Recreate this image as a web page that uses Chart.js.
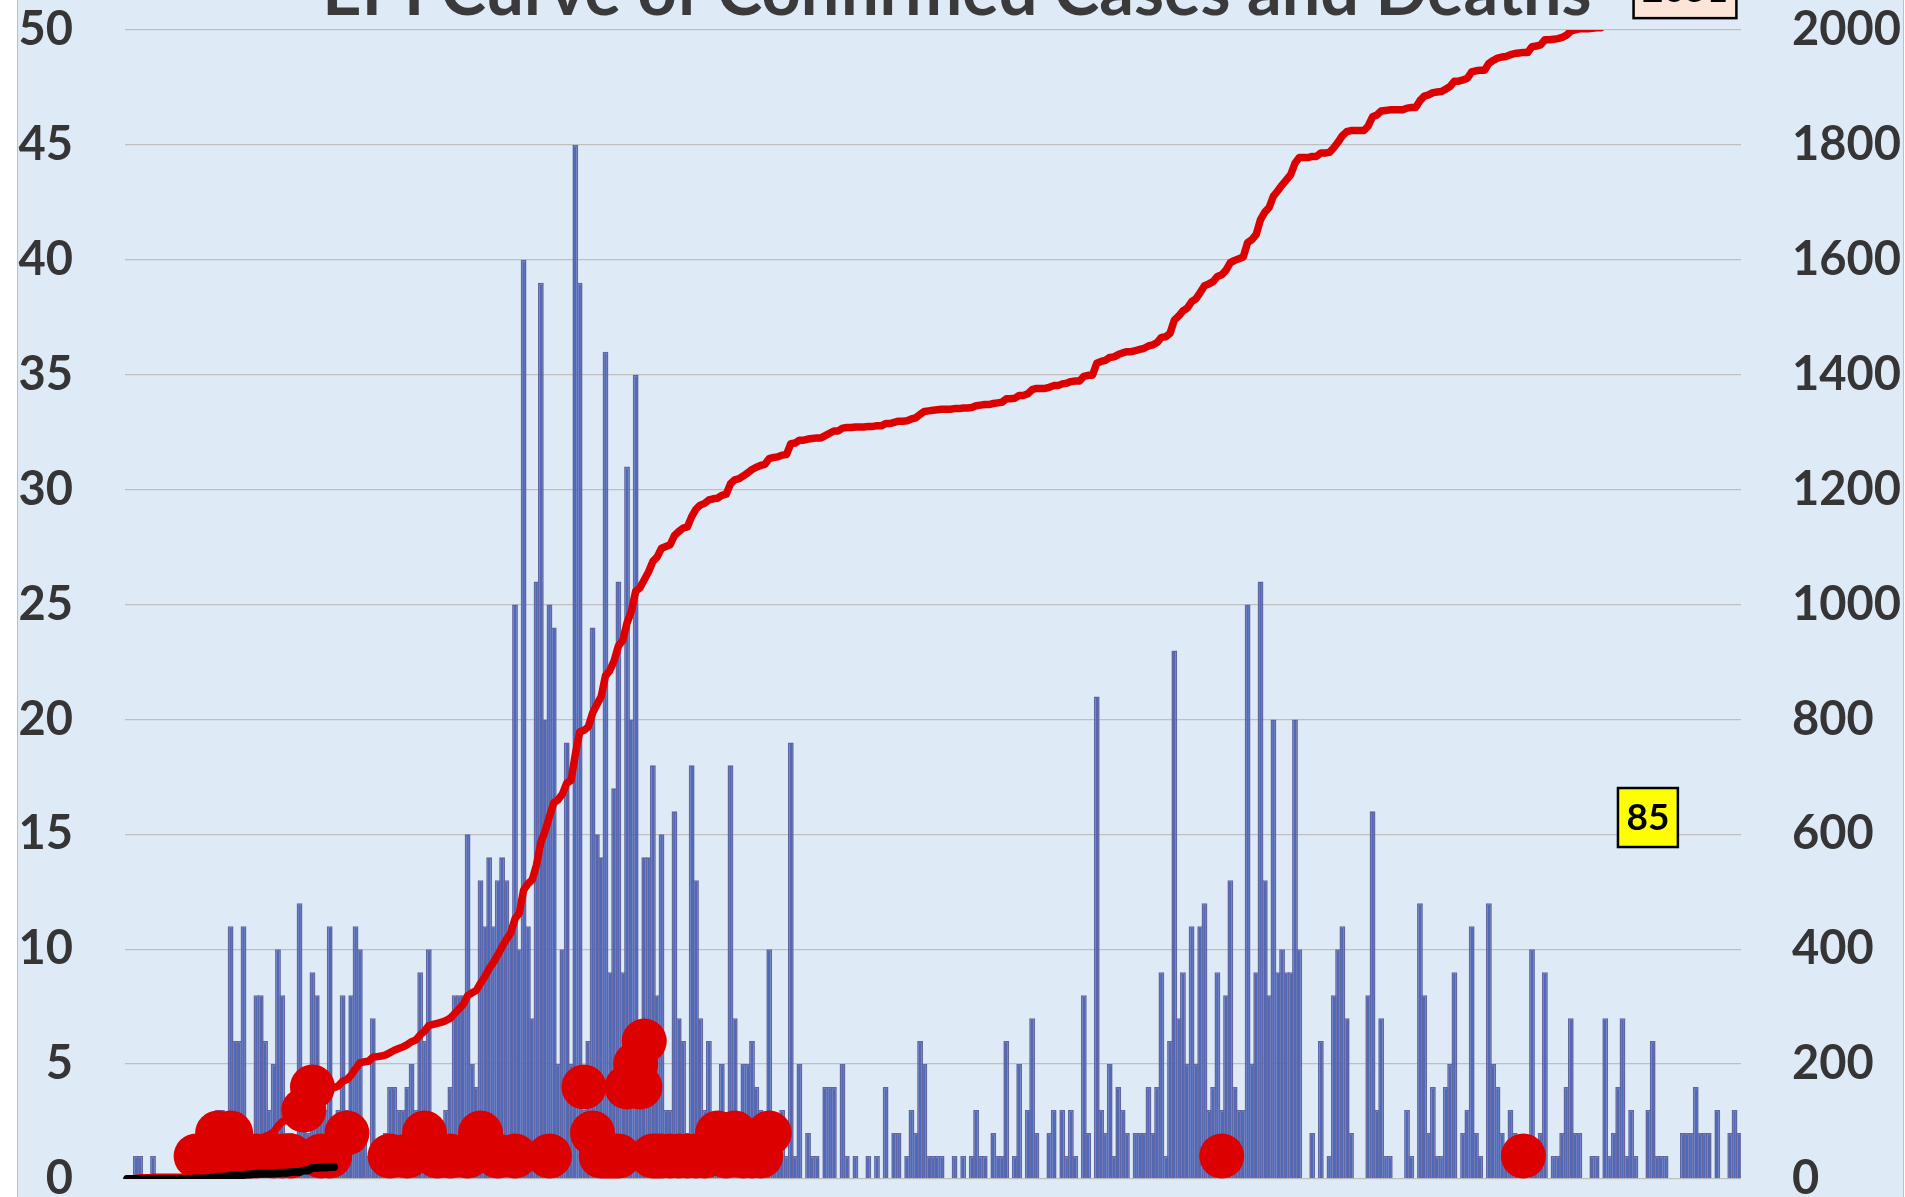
<!DOCTYPE html>
<html>
<head>
<meta charset="utf-8">
<title>EPI Curve of Confirmed Cases and Deaths</title>
<script src="https://cdn.jsdelivr.net/npm/chart.js@4.4.1/dist/chart.umd.min.js"></script>
<style>
  html, body { margin: 0; padding: 0; width: 1905px; height: 1197px; overflow: hidden; background: #ffffff; }
  #frame { position: absolute; left: 17px; top: -20px; width: 1885px; height: 1300px; background: #DEEBF7;
           border-left: 1px solid #BFBFBF; border-right: 1px solid #BFBFBF; }
  #wrap { position: absolute; left: 0; top: 0; width: 1905px; height: 1240px; }
</style>
</head>
<body>
<div id="frame"></div>
<div id="wrap"><canvas id="epi"></canvas></div>
<script>
// ===== DATA (one value per day) =====
var dailyCases = [
  0,0,1,1,0, 0,1,0,0,0, 0,0,0,0,1, 0,1,1,0,1, 1,3,3,2,11,
  6,6,11,1,1, 8,8,6,3,5, 10,8,2,2,1, 12,3,2,9,8, 4,3,11,2,3,
  8,3,8,11,10, 2,1,7,1,1, 2,4,4,3,3, 4,5,3,9,6, 10,2,2,2,3,
  4,8,8,8,15, 5,4,13,11,14, 11,13,14,13,11, 25,10,40,11,7, 26,39,20,25,24,
  5,10,19,5,45, 39,3,6,24,15, 14,36,9,17,26, 9,31,20,35,6, 14,14,18,8,15,
  3,3,16,7,6, 2,18,13,7,3, 6,2,1,5,2, 18,7,2,5,5, 6,4,3,2,10,
  2,1,3,1,19, 1,5,0,2,1, 1,0,4,4,4, 0,5,1,0,1, 0,0,1,0,1,
  0,4,0,2,2, 0,1,3,2,6, 5,1,1,1,1, 0,0,1,0,1, 0,1,3,1,1,
  0,2,1,1,6, 0,1,5,0,3, 7,2,0,0,2, 3,0,3,1,3, 1,0,8,2,0,
  21,3,2,5,1, 4,3,2,0,2, 2,2,4,2,4, 9,1,6,23,7, 9,5,11,5,11,
  12,3,4,9,3, 8,13,4,3,3, 25,5,9,26,13, 8,20,9,10,9, 9,20,10,0,0,
  2,0,6,0,1, 8,10,11,7,2, 0,0,0,8,16, 3,7,1,1,0, 0,0,3,1,0,
  12,8,2,4,1, 1,4,5,9,0, 2,3,11,2,1, 0,12,5,4,2, 1,3,2,1,1,
  0,10,1,2,9, 0,1,1,2,4, 7,2,2,0,0, 1,1,0,7,1, 2,4,7,1,3,
  1,0,0,3,6, 1,1,1,0,0, 0,2,2,2,4, 2,2,2,0,3, 0,0,2,3,2
];

var dailyDeaths = [
  0,0,0,0,0, 0,0,0,0,0, 0,0,0,0,0, 0,1,0,0,1, 0,2,0,0,2,
  0,1,0,1,0, 1,0,0,0,1, 0,1,0,1,0, 0,3,0,4,0, 1,0,1,0,0,
  0,2,0,0,0, 0,0,0,0,0, 0,1,0,0,0, 1,0,0,0,2, 0,0,1,0,0,
  1,0,0,0,1, 0,0,2,0,0, 0,1,0,0,0, 1,0,0,0,0, 0,0,0,1,0,
  0,0,0,0,0, 0,4,0,2,0, 1,1,1,1,1, 0,4,0,5,4, 6,0,1,1,1,
  0,1,0,1,0, 1,0,1,0,1, 0,0,2,0,1, 0,2,0,1,0, 1,0,1,0,2,
  0,0,0,0,0, 0,0,0,0,0, 0,0,0,0,0, 0,0,0,0,0, 0,0,0,0,0,
  0,0,0,0,0, 0,0,0,0,0, 0,0,0,0,0, 0,0,0,0,0, 0,0,0,0,0,
  0,0,0,0,0, 0,0,0,0,0, 0,0,0,0,0, 0,0,0,0,0, 0,0,0,0,0,
  0,0,0,0,0, 0,0,0,0,0, 0,0,0,0,0, 0,0,0,0,0, 0,0,0,0,0,
  0,0,0,0,1, 0,0,0,0,0, 0,0,0,0,0, 0,0,0,0,0, 0,0,0,0,0,
  0,0,0,0,0, 0,0,0,0,0, 0,0,0,0,0, 0,0,0,0,0, 0,0,0,0,0,
  0,0,0,0,0, 0,0,0,0,0, 0,0,0,0,0, 0,0,0,0,0, 0,0,0,0,1,
  0,0,0,0,0, 0,0,0,0,0, 0,0,0,0,0, 0,0,0,0,0, 0,0,0,0,0,
  0,0,0,0,0, 0,0,0,0,0, 0,0,0,0,0, 0,0,0,0,0, 0,0,0,0,0
];

// the black cumulative-deaths line was only kept for the first days
var deathLineDays = 49;

var leftTicks  = [0, 5, 10, 15, 20, 25, 30, 35, 40, 45, 50];
var rightTicks = [0, 200, 400, 600, 800, 1000, 1200, 1400, 1600, 1800, 2000];

var chartTitle = 'EPI Curve of Confirmed Cases and Deaths';
var callouts = [
  { text: '2051', day: 361.5, value: 51.8,  fill: '#FCE4D6' },
  { text: '85',   day: 352.9, value: 15.73, fill: '#FFFF00' }
];

// ===== DERIVED SERIES =====
var dayLabels = dailyCases.map(function (v, i) { return 'Day ' + (i + 1); });

var cumCases = [];
var runC = 0;
dailyCases.forEach(function (v) { runC += v; cumCases.push(runC); });

var cumDeaths = [];
var runD = 0;
dailyDeaths.forEach(function (v, i) { runD += v; cumDeaths.push(i < deathLineDays ? runD : null); });

var deathDots = dailyDeaths.map(function (v) { return v > 0 ? v : null; });

// ===== CHART =====
var tickFont = { family: 'Lato', weight: 'bold', size: 47 };
var plain = function (v) { return String(v); };

var overlay = {
  id: 'overlay',
  afterDraw: function (chart) {
    var ctx = chart.ctx, xs = chart.scales.x, ys = chart.scales.y;
    ctx.save();
    // title (cut by the top of the picture)
    ctx.font = 'bold 100px Lato';
    var sz = 100 * 1270 / ctx.measureText(chartTitle).width;
    ctx.font = 'bold ' + sz.toFixed(1) + 'px Lato';
    ctx.fillStyle = '#3a3a3a';
    ctx.textAlign = 'center';
    ctx.textBaseline = 'alphabetic';
    ctx.fillText(chartTitle, 957, 15);
    // value boxes
    ctx.font = 'bold 37px Lato';
    ctx.textBaseline = 'middle';
    callouts.forEach(function (b) {
      var cx = xs.getPixelForValue(b.day), cy = ys.getPixelForValue(b.value);
      var w = ctx.measureText(b.text).width + 17, h = 59;
      ctx.fillStyle = b.fill;
      ctx.fillRect(cx - w / 2, cy - h / 2, w, h);
      ctx.lineWidth = 2.5;
      ctx.strokeStyle = '#000';
      ctx.strokeRect(cx - w / 2, cy - h / 2, w, h);
      ctx.fillStyle = '#000';
      ctx.fillText(b.text, cx, cy + 1);
    });
    ctx.restore();
  }
};

new Chart(document.getElementById('epi').getContext('2d'), {
  type: 'bar',
  data: {
    labels: dayLabels,
    datasets: [
      { type: 'line', label: 'Cumulative deaths', data: cumDeaths, yAxisID: 'y1', order: 0,
        borderColor: '#000000', borderWidth: 8, pointRadius: 0, tension: 0,
        borderCapStyle: 'round', borderJoinStyle: 'round', spanGaps: false },
      { type: 'line', label: 'Cumulative cases', data: cumCases, yAxisID: 'y1', order: 1,
        borderColor: '#DD0000', borderWidth: 7.5, pointRadius: 0, tension: 0,
        borderCapStyle: 'round', borderJoinStyle: 'round' },
      { type: 'line', label: 'Deaths', data: deathDots, yAxisID: 'y', order: 2, showLine: false,
        pointRadius: 22.5, pointBackgroundColor: '#DD0000', pointBorderWidth: 0, borderColor: '#DD0000' },
      { type: 'bar', label: 'Confirmed cases', data: dailyCases, yAxisID: 'y', order: 3,
        backgroundColor: '#5068BA', borderColor: '#63659E', borderWidth: 1.6,
        barPercentage: 1.35, categoryPercentage: 1 }
    ]
  },
  options: {
    responsive: true, maintainAspectRatio: false, animation: false,
    layout: { padding: { top: 30, bottom: 61, left: 0, right: 0 } },
    plugins: { legend: { display: false }, tooltip: { enabled: false } },
    scales: {
      x: { display: false, offset: true },
      y: { position: 'left', min: 0, max: 50,
        afterBuildTicks: function (s) { s.ticks = leftTicks.map(function (v) { return { value: v }; }); },
        afterFit: function (s) { s.width = 125; s.paddingTop = 0; s.paddingBottom = 0; },
        grid: { color: '#BFBFBF', lineWidth: 1.3, drawTicks: false },
        border: { display: false },
        ticks: { padding: 52, color: '#353535', font: tickFont, callback: plain } },
      y1: { position: 'right', min: 0, max: 2000,
        afterBuildTicks: function (s) { s.ticks = rightTicks.map(function (v) { return { value: v }; }); },
        afterFit: function (s) { s.width = 164; s.paddingTop = 0; s.paddingBottom = 0; },
        grid: { drawOnChartArea: false, drawTicks: false },
        border: { display: false },
        ticks: { padding: 51, color: '#353535', font: tickFont, callback: plain } }
    }
  },
  plugins: [overlay]
});
</script>
</body>
</html>
